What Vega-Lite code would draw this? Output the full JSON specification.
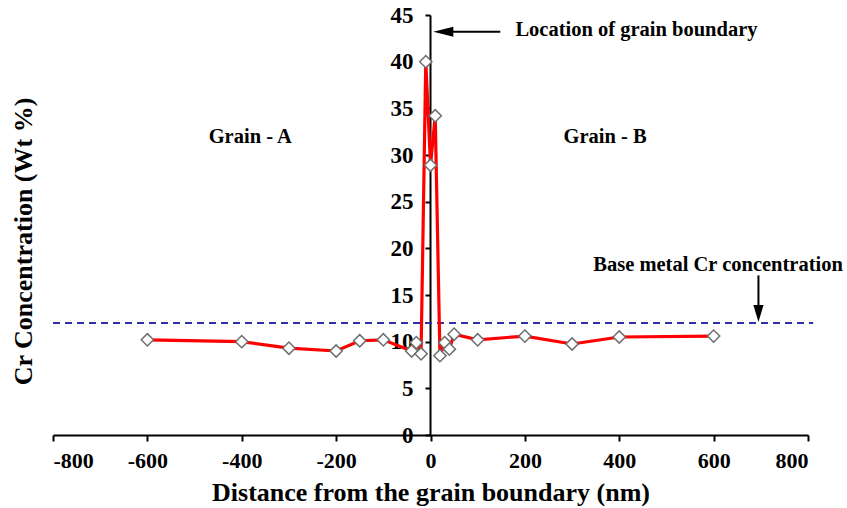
{
  "$schema": "https://vega.github.io/schema/vega-lite/v6.json",
  "width": 755,
  "height": 420,
  "autosize": {"type": "none"},
  "padding": {"left": 53, "top": 15, "right": 39, "bottom": 73},
  "background": "white",
  "config": {"view": {"stroke": null}, "font": "Liberation Serif"},
  "datasets": {
    "profile": [
      {"x": -600, "y": 10.2},
      {"x": -400, "y": 10.0},
      {"x": -300, "y": 9.3},
      {"x": -200, "y": 9.0},
      {"x": -150, "y": 10.1},
      {"x": -100, "y": 10.2},
      {"x": -40, "y": 9.0},
      {"x": -30, "y": 9.9},
      {"x": -20, "y": 8.7},
      {"x": -10, "y": 40.0},
      {"x": 0, "y": 28.9},
      {"x": 10, "y": 34.2},
      {"x": 20, "y": 8.5},
      {"x": 30, "y": 9.9},
      {"x": 40, "y": 9.2},
      {"x": 50, "y": 10.8},
      {"x": 100, "y": 10.2},
      {"x": 200, "y": 10.6},
      {"x": 300, "y": 9.75},
      {"x": 400, "y": 10.5},
      {"x": 600, "y": 10.6}
    ],
    "base": [{"x": -800, "x2": 811, "y": 12}],
    "vshaft": [{"x": 695, "y": 17.1, "y2": 13.8}],
    "vhead": [{"x": 695, "y": 12.1}],
    "hshaft": [{"x": 30, "x2": 148, "y": 43.2}],
    "hhead": [{"x": 6, "y": 43.2}],
    "leftText": [
      {"x": 180, "y": 43.4, "label": "Location of grain boundary"},
      {"x": 345, "y": 18.2, "label": "Base metal Cr concentration"}
    ],
    "centerText": [
      {"x": -382, "y": 31.9, "label": "Grain - A"},
      {"x": 370, "y": 31.9, "label": "Grain - B"}
    ]
  },
  "encoding": {
    "x": {
      "field": "x",
      "type": "quantitative",
      "scale": {"domain": [-800, 800], "nice": false, "zero": false},
      "axis": {
        "title": "Distance from the grain boundary  (nm)",
        "values": [-800, -600, -400, -200, 0, 200, 400, 600, 800],
        "labelExpr": "toString(datum.value)",
        "grid": false,
        "domainColor": "black",
        "domainWidth": 2,
        "tickColor": "black",
        "tickWidth": 2,
        "tickSize": 6,
        "labelPadding": 9,
        "labelFont": "Liberation Serif",
        "labelFontWeight": "bold",
        "labelFontSize": 22,
        "labelColor": "black",
        "titleFont": "Liberation Serif",
        "titleFontWeight": "bold",
        "titleFontSize": 26,
        "titleColor": "black",
        "titleBaseline": "middle",
        "titleY": 57
      }
    },
    "y": {
      "field": "y",
      "type": "quantitative",
      "scale": {"domain": [0, 45], "nice": false},
      "axis": {
        "title": "Cr Concentration (Wt %)",
        "values": [0, 5, 10, 15, 20, 25, 30, 35, 40, 45],
        "grid": false,
        "offset": -377,
        "domainColor": "black",
        "domainWidth": 2,
        "tickColor": "black",
        "tickWidth": 2,
        "tickSize": 5,
        "labelPadding": 12,
        "labelFont": "Liberation Serif",
        "labelFontWeight": "bold",
        "labelFontSize": 23,
        "labelColor": "black",
        "titleFont": "Liberation Serif",
        "titleFontWeight": "bold",
        "titleFontSize": 26,
        "titleColor": "black",
        "titleBaseline": "middle",
        "titleX": -407,
        "titleY": 226
      }
    }
  },
  "layer": [
    {
      "data": {"name": "base"},
      "mark": {"type": "rule", "color": "#2f2fa8", "strokeWidth": 2.2, "strokeDash": [7, 5]},
      "encoding": {"x2": {"field": "x2"}}
    },
    {
      "data": {"name": "profile"},
      "mark": {"type": "line", "color": "#ff0000", "strokeWidth": 3.2}
    },
    {
      "data": {"name": "profile"},
      "mark": {"type": "point", "shape": "diamond", "size": 150, "filled": true, "fill": "white", "stroke": "#6e6e6e", "strokeWidth": 1.5, "opacity": 1}
    },
    {
      "data": {"name": "vshaft"},
      "mark": {"type": "rule", "color": "black", "strokeWidth": 2},
      "encoding": {"y2": {"field": "y2"}}
    },
    {
      "data": {"name": "vhead"},
      "mark": {"type": "point", "shape": "M0,0L-0.6,-2L0.6,-2Z", "size": 289, "filled": true, "color": "black", "opacity": 1}
    },
    {
      "data": {"name": "hshaft"},
      "mark": {"type": "rule", "color": "black", "strokeWidth": 2},
      "encoding": {"x2": {"field": "x2"}}
    },
    {
      "data": {"name": "hhead"},
      "mark": {"type": "point", "shape": "M0,0L2,-0.5L2,0.5Z", "size": 400, "filled": true, "color": "black", "opacity": 1}
    },
    {
      "data": {"name": "leftText"},
      "mark": {"type": "text", "align": "left", "baseline": "middle", "font": "Liberation Serif", "fontWeight": "bold", "fontSize": 20.5, "color": "black"},
      "encoding": {"text": {"field": "label"}}
    },
    {
      "data": {"name": "centerText"},
      "mark": {"type": "text", "align": "center", "baseline": "middle", "font": "Liberation Serif", "fontWeight": "bold", "fontSize": 20.5, "color": "black"},
      "encoding": {"text": {"field": "label"}}
    }
  ]
}
